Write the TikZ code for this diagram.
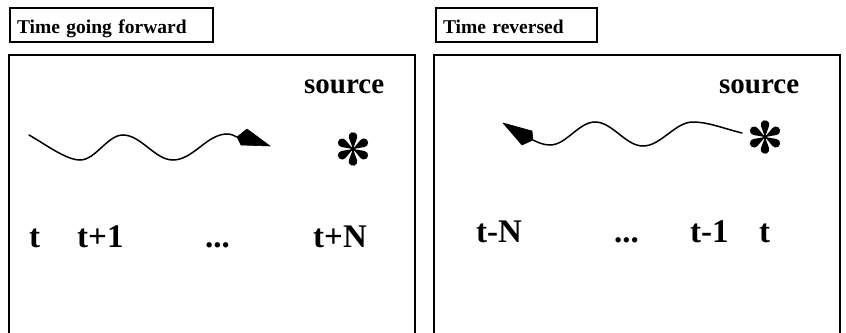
\documentclass[tikz,border=0pt]{standalone}
\usepackage{fontspec}
\setmainfont{Liberation Serif}
\begin{document}
\begin{tikzpicture}[x=1pt,y=-1pt,
  panel/.style={draw,line width=2pt},
  titlebox/.style={draw,line width=2pt,anchor=north west,minimum height=34pt,
    inner xsep=7pt,inner ysep=0pt,align=left,text height=20pt,text depth=4pt,
    font=\bfseries\fontsize{19.5}{22}\selectfont},
  label/.style={anchor=base west,inner sep=0pt,font=\bfseries\fontsize{33}{36}\selectfont},
  srclabel/.style={anchor=base west,inner sep=0pt,font=\bfseries\fontsize{29}{32}\selectfont},
  wave/.style={line width=1.5pt,line cap=round},
  head/.style={fill=black,draw=black,line width=0.6pt,line join=round},
  asterisk/.pic={
    \fill (0,0) circle (2.4);
    \foreach \a in {0,60,...,300}
      \fill[rotate=\a] (0,0) -- (4.03,11.02) arc[start angle=-20.1,end angle=200.1,radius=4.3] -- cycle;
  }]
\useasboundingbox (0,0) rectangle (846,332);
\clip (0,0) rectangle (846,332);

% panels (open at the bottom edge)
\draw[panel] (9,345) -- (9,55) -- (415,55) -- (415,345);
\draw[panel] (434,345) -- (434,55) -- (840,55) -- (840,345);

% titles
\node[titlebox,text width=189pt] (titleL) at (9,7) {Time going forward};
\node[titlebox,text width=147pt] (titleR) at (435,7) {Time reversed};

% forward panel
\node[srclabel] (srcL) at (304,93) {source};
\coordinate (starL) at (353,149);
\pic at (starL) {asterisk};

\coordinate (wL0) at (29,135);
\coordinate (wL5) at (237,137);
\draw[wave] (wL0) .. controls (45,144) and (66,160) .. (80,160)
  .. controls (95.7,160) and (107.3,135) .. (123,135)
  .. controls (141,135) and (155,160) .. (173,160)
  .. controls (193,160) and (207,134) .. (227,134)
  .. controls (231,134) and (234,135.5) .. (wL5);
\fill[head] (wL5) -- (247,129) -- (270,146) -- (241,145) -- cycle;

\node[label] (tL0) at (29,247) {t};
\node[label] (tL1) at (77,247) {t+1};
\node[label] (tLd) at (205,247) {...};
\node[label] (tLN) at (313,247) {t+N};

% reversed panel
\node[srclabel] (srcR) at (719,93) {source};
\coordinate (starR) at (765,137);
\pic at (starR) {asterisk};

\coordinate (wR0) at (742,133);
\coordinate (wR5) at (533,140);
\draw[wave] (wR0) .. controls (722,128) and (708,122) .. (693,122)
  .. controls (675,122) and (661,146) .. (643,146)
  .. controls (625.5,146) and (612.5,122) .. (595,122)
  .. controls (578.6,122) and (566.4,145) .. (550,145)
  .. controls (543,145) and (537,142) .. (wR5);
\fill[head] (wR5) -- (532,131) -- (503,123) -- (522,145) -- cycle;

\node[label] (tRN) at (476,242) {t-N};
\node[label] (tRd) at (614,242) {...};
\node[label] (tR1) at (690,242) {t-1};
\node[label] (tR0) at (759,242) {t};
\end{tikzpicture}
\end{document}
